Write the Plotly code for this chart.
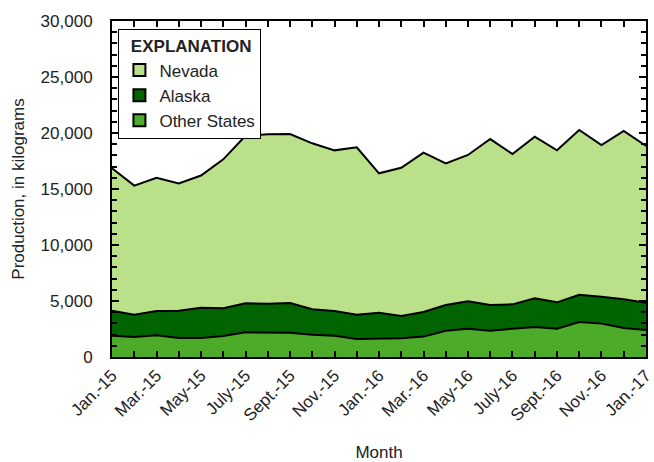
import plotly.graph_objects as go

# Monthly gold production, in kilograms
months = ["Jan.-15", "Feb.-15", "Mar.-15", "Apr.-15", "May-15", "June-15", "July-15", "Aug.-15",
          "Sept.-15", "Oct.-15", "Nov.-15", "Dec.-15", "Jan.-16", "Feb.-16", "Mar.-16", "Apr.-16",
          "May-16", "June-16", "July-16", "Aug.-16", "Sept.-16", "Oct.-16", "Nov.-16", "Dec.-16",
          "Jan.-17"]
other_states = [1900, 1790, 1940, 1700, 1700, 1880, 2200, 2200, 2170, 1990, 1900, 1610, 1640,
                1670, 1820, 2350, 2530, 2350, 2530, 2680, 2530, 3130, 2980, 2590, 2410]
alaska = [2230, 1990, 2160, 2430, 2700, 2470, 2590, 2560, 2650, 2270, 2200, 2170, 2320,
          1990, 2200, 2290, 2440, 2290, 2170, 2560, 2350, 2430, 2400, 2560, 2440]
nevada = [12720, 11520, 11900, 11370, 11800, 13300, 14970, 15120, 15080, 14820, 14350, 14940,
          12440, 13240, 14220, 12650, 13070, 14820, 13420, 14430, 13570, 14710, 13550, 15030, 14000]

y_ticks = [0, 5000, 10000, 15000, 20000, 25000, 30000]

FONT = "Liberation Sans Narrow, Arial Narrow, Liberation Sans, Arial, sans-serif"
TXT = "#222"
colors = {"Nevada": "#bae08a", "Alaska": "#006400", "Other States": "#4cab29"}

x = list(range(len(months)))
fig = go.Figure()

# stacked areas, bottom to top
for name, vals in [("Other States", other_states), ("Alaska", alaska), ("Nevada", nevada)]:
    fig.add_trace(go.Scatter(
        x=x, y=vals, name=name, stackgroup="prod", mode="lines",
        line=dict(color="black", width=2), fillcolor=colors[name],
        showlegend=False, hoverinfo="skip"))

# legend keys as square swatches
for name in ["Nevada", "Alaska", "Other States"]:
    fig.add_trace(go.Scatter(
        x=[None], y=[None], name=name, mode="markers",
        marker=dict(symbol="square", size=12, color=colors[name],
                    line=dict(color="black", width=1.5))))

fig.update_layout(
    width=654, height=462,
    margin=dict(l=112, r=8, t=21, b=105),
    plot_bgcolor="white", paper_bgcolor="white",
    font=dict(family=FONT, size=17, color=TXT),
    legend=dict(
        x=0.012, y=0.975, xanchor="left", yanchor="top",
        bgcolor="white", bordercolor="black", borderwidth=1,
        title=dict(text="&nbsp;&nbsp;<b>EXPLANATION</b>", font=dict(size=17, color=TXT)),
        font=dict(size=17, color=TXT),
        traceorder="normal", itemwidth=30,
        itemsizing="constant", tracegroupgap=0,
    ),
)

fig.update_xaxes(
    range=[-0.001, len(months) - 1 + 0.001], automargin=False,
    tickmode="array", tickvals=x[::2], ticktext=months[::2],
    ticklabeloverflow="allow",
    tickangle=-45, ticks="inside", ticklen=6, tickwidth=1.5, tickcolor="black",
    minor=dict(tickvals=x, ticks="inside", ticklen=6, tickwidth=1.5, tickcolor="black"),
    showline=True, linecolor="black", linewidth=2, mirror="allticks",
    showgrid=False, zeroline=False,
    tickfont=dict(size=17, family=FONT, color=TXT),
    title=dict(text="Month", font=dict(size=17, family=FONT, color=TXT), standoff=31),
)
fig.update_yaxes(
    range=[0, 30000], automargin=False,
    tickmode="array", tickvals=y_ticks, tickformat=",d",
    ticks="inside", ticklen=7, tickwidth=1.5, tickcolor="black",
    minor=dict(dtick=1000, ticks="inside", ticklen=5, tickwidth=1.5, tickcolor="black"),
    showline=True, linecolor="black", linewidth=2, mirror="allticks",
    showgrid=False, zeroline=False, ticklabelstandoff=14,
    tickfont=dict(size=17, family=FONT, color=TXT),
    title=dict(text="Production, in kilograms", font=dict(size=17, family=FONT, color=TXT),
               standoff=12),
)

fig.write_html("out.html")
